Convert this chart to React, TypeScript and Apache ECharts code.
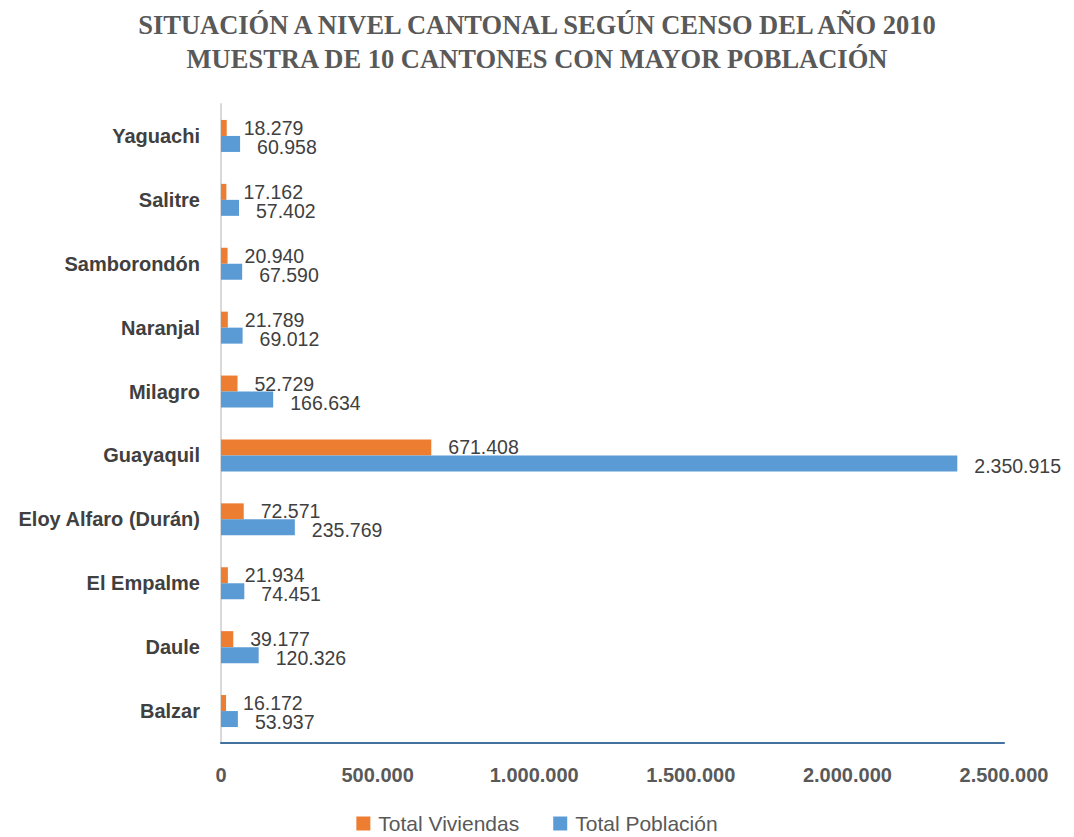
import React, { useEffect, useRef } from "react";
import * as echarts from "echarts";

const categories = [
  "Balzar",
  "Daule",
  "El Empalme",
  "Eloy Alfaro (Durán)",
  "Guayaquil",
  "Milagro",
  "Naranjal",
  "Samborondón",
  "Salitre",
  "Yaguachi",
];
const viviendas = [16172, 39177, 21934, 72571, 671408, 52729, 21789, 20940, 17162, 18279];
const poblacion = [53937, 120326, 74451, 235769, 2350915, 166634, 69012, 67590, 57402, 60958];
const xTicks = [0, 500000, 1000000, 1500000, 2000000, 2500000];

const fmt = (v: number) => String(Math.round(v)).replace(/\B(?=(\d{3})+(?!\d))/g, ".");

export default function App() {
  const ref = useRef<HTMLDivElement>(null);
  useEffect(() => {
    if (!ref.current) return;
    const chart = echarts.init(ref.current, null, { renderer: "svg" });
    const labelStyle = {
      show: true,
      position: "right" as const,
      distance: 17,
      color: "#404040",
      fontSize: 19.5,
      fontFamily: "Liberation Sans, Arial, sans-serif",
      formatter: (p: any) => fmt(p.value),
    };
    chart.setOption({
      animation: false,
      backgroundColor: "#ffffff",
      title: {
        text: "SITUACIÓN A NIVEL CANTONAL SEGÚN CENSO DEL AÑO 2010\nMUESTRA DE 10 CANTONES CON MAYOR POBLACIÓN",
        left: "center",
        top: 3,
        textStyle: {
          fontFamily: "Liberation Serif, Times New Roman, serif",
          fontWeight: "bold",
          fontSize: 26.5,
          lineHeight: 34,
          color: "#595959",
        },
      },
      legend: {
        top: 808,
        left: "center",
        itemWidth: 14,
        itemHeight: 14,
        itemGap: 34,
        icon: "rect",
        data: ["Total Viviendas", "Total Población"],
        textStyle: {
          fontSize: 21,
          color: "#595959",
          fontFamily: "Liberation Sans, Arial, sans-serif",
          padding: [0, 0, 0, 3],
        },
      },
      grid: { left: 221, right: 70, top: 104, bottom: 94, containLabel: false },
      xAxis: {
        type: "value",
        min: xTicks[0],
        max: xTicks[xTicks.length - 1],
        interval: xTicks[1] - xTicks[0],
        splitLine: { show: false },
        axisTick: { show: false },
        axisLine: { show: true, lineStyle: { color: "#41719C", width: 2 } },
        axisLabel: {
          margin: 22,
          fontSize: 20,
          fontWeight: "bold",
          color: "#595959",
          fontFamily: "Liberation Sans, Arial, sans-serif",
          formatter: (v: number) => fmt(v),
        },
      },
      yAxis: {
        type: "category",
        data: categories,
        axisTick: { show: false },
        axisLine: { show: true, lineStyle: { color: "#D9D9D9", width: 2 } },
        axisLabel: {
          margin: 21,
          fontSize: 20,
          fontWeight: "bold",
          color: "#404040",
          fontFamily: "Liberation Sans, Arial, sans-serif",
        },
      },
      series: [
        {
          name: "Total Viviendas",
          type: "bar",
          data: viviendas,
          barWidth: 16,
          barGap: "0%",
          itemStyle: { color: "#ED7D31" },
          label: { ...labelStyle, offset: [0, 0] },
        },
        {
          name: "Total Población",
          type: "bar",
          data: poblacion,
          barWidth: 16,
          barGap: "0%",
          itemStyle: { color: "#5B9BD5" },
          label: { ...labelStyle, offset: [0, 3] },
        },
      ],
    });
    return () => chart.dispose();
  }, []);
  return (
    <div
      ref={ref}
      style={{ position: "fixed", left: 0, top: 0, width: 1074, height: 837 }}
    />
  );
}
